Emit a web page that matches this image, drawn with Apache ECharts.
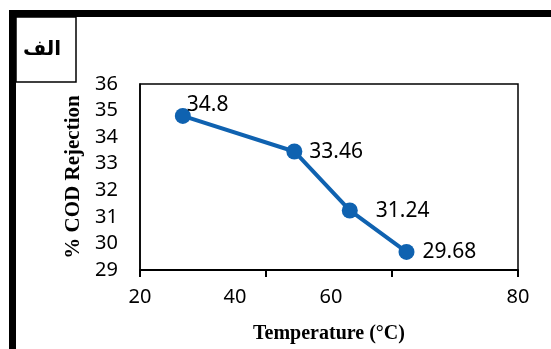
<!DOCTYPE html>
<html>
<head>
<meta charset="utf-8">
<script src="https://cdn.jsdelivr.net/npm/echarts@6/dist/echarts.min.js"></script>
<style>
html,body{margin:0;padding:0;background:#fff;}
#c{width:551px;height:349px;}
</style>
</head>
<body>
<div id="c"></div>
<script>
// Data
var temperature = [26.8, 44.5, 53.3, 62.3];
var codRejection = [34.8, 33.46, 31.24, 29.68];
var valueLabels = ['34.8', '33.46', '31.24', '29.68'];
var xTicks = [20, 40, 60, 80];
var yTicks = [29, 30, 31, 32, 33, 34, 35, 36];
var panelLabel = 'الف';
var xTitle = 'Temperature (°C)';
var yTitle = '% COD Rejection';

var labelOffsets = [[-9, -11], [2, 1], [13, 1], [3, 0]];
var xLabelShift = {20: 0, 40: 62, 60: 122, 80: 0};

var chart = echarts.init(document.getElementById('c'), null, {renderer: 'canvas'});
var seriesData = temperature.map(function (t, i) {
  return {
    value: [t, codRejection[i]],
    label: {offset: labelOffsets[i]}
  };
});

chart.setOption({
  backgroundColor: '#ffffff',
  animation: false,
  grid: {left: 140, right: 33, top: 84, bottom: 79, show: true, borderColor: '#000', borderWidth: 1.5, backgroundColor: 'transparent'},
  xAxis: {
    type: 'value', min: xTicks[0], max: xTicks[xTicks.length - 1], interval: 20,
    name: xTitle, nameLocation: 'middle', nameGap: 54,
    nameTextStyle: {fontFamily: 'Liberation Serif', fontWeight: 'bold', fontSize: 20, color: '#000'},
    axisLine: {show: true, lineStyle: {color: '#000', width: 2}},
    axisTick: {show: true, inside: false, length: 7, lineStyle: {color: '#000', width: 2}},
    splitLine: {show: false},
    axisLabel: {
      margin: 17, fontFamily: 'Noto Sans', fontSize: 20, color: '#000',
      formatter: function (v) {
        var p = xLabelShift[v] || 0;
        return p ? '{s' + v + '|' + v + '}' : String(v);
      },
      rich: {
        s40: {fontFamily: 'Noto Sans', fontSize: 20, color: '#000', padding: [0, 62, 0, 0]},
        s60: {fontFamily: 'Noto Sans', fontSize: 20, color: '#000', padding: [0, 122, 0, 0]}
      }
    }
  },
  yAxis: {
    type: 'value', min: yTicks[0], max: yTicks[yTicks.length - 1], interval: 1,
    name: yTitle, nameLocation: 'middle', nameGap: 56, nameRotate: 90,
    nameTextStyle: {fontFamily: 'Liberation Serif', fontWeight: 'bold', fontSize: 21, color: '#000'},
    axisLine: {show: true, lineStyle: {color: '#000', width: 1.5}},
    axisTick: {show: false},
    splitLine: {show: false},
    axisLabel: {margin: 22, fontFamily: 'Noto Sans', fontSize: 20, color: '#000'}
  },
  series: [{
    type: 'line',
    data: seriesData,
    symbol: 'circle', symbolSize: 16,
    itemStyle: {color: '#0f62b0'},
    lineStyle: {color: '#0f62b0', width: 4},
    label: {
      show: true, position: 'right', distance: 5,
      fontFamily: 'Noto Sans', fontSize: 21, color: '#000',
      formatter: function (p) { return valueLabels[p.dataIndex]; }
    }
  }],
  graphic: [
    {type: 'rect', shape: {x: 9, y: 10, width: 542, height: 7}, style: {fill: '#000'}, z: 100},
    {type: 'rect', shape: {x: 9, y: 10, width: 7, height: 339}, style: {fill: '#000'}, z: 100},
    {type: 'rect', shape: {x: 16, y: 17, width: 60, height: 65}, style: {fill: 'none', stroke: '#000', lineWidth: 1.5}, z: 99},
    {type: 'text', x: 42, y: 50, style: {text: panelLabel, font: 'bold 20px "DejaVu Sans"', fill: '#000', align: 'center', verticalAlign: 'middle'}, z: 100}
  ]
});
</script>
</body>
</html>
